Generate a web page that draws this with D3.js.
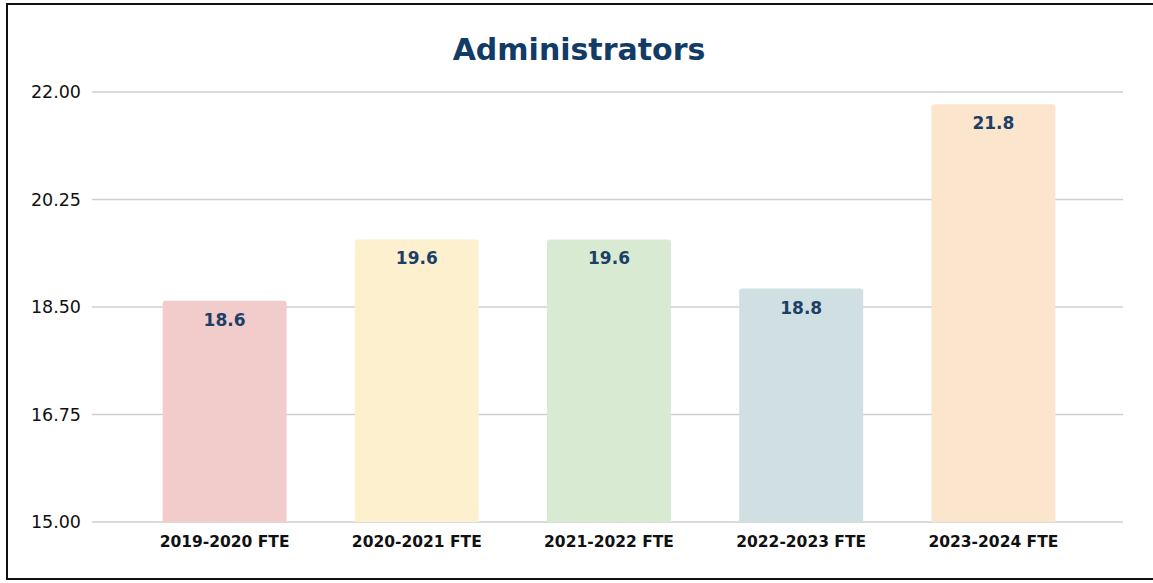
<!DOCTYPE html>
<html>
<head>
<meta charset="utf-8">
<script src="https://cdn.jsdelivr.net/npm/d3@7"></script>
<style>
  body { margin: 0; background: #fff; }
  svg { display: block; }
</style>
</head>
<body>
<div id="chart"></div>
<script>
const width = 1153;
const height = 583;

// data
const categories = ["2019-2020 FTE", "2020-2021 FTE", "2021-2022 FTE", "2022-2023 FTE", "2023-2024 FTE"];
const values = [18.6, 19.6, 19.6, 18.8, 21.8];
const barColors = ["#f2cbcb", "#fdf0cf", "#d9ead3", "#d0dfe2", "#fce5cd"];
const yTicks = [15, 16.75, 18.5, 20.25, 22];

const svg = d3.select("#chart").append("svg").attr("width", width).attr("height", height);

// frame (left, top, bottom edges only)
svg.append("path")
    .attr("d", "M1153,4 H7 V579 H1153")
    .attr("fill", "none")
    .attr("stroke", "#111")
    .attr("stroke-width", 2);

const y = d3.scaleLinear().domain([15, 22]).range([522, 92]);
const x = d3.scaleBand().domain(categories).range([128, 1090]).paddingInner(0.355).paddingOuter(0.18);

// gridlines
svg.selectAll(".grid").data(yTicks).enter()
    .append("line")
    .attr("x1", 92)
    .attr("x2", 1123)
    .attr("y1", d => y(d))
    .attr("y2", d => y(d))
    .attr("stroke", "#cfcfcf")
    .attr("stroke-width", 1.3);

// y tick labels
svg.selectAll(".ytick").data(yTicks).enter()
    .append("text")
    .attr("x", 81)
    .attr("y", d => y(d))
    .attr("dy", "0.36em")
    .attr("text-anchor", "end")
    .attr("font-family", "DejaVu Sans, sans-serif")
    .attr("font-size", 17.5)
    .attr("fill", "#111")
    .text(d => d3.format(".2f")(d));

// bars
svg.selectAll(".bar").data(values).enter()
    .append("path")
    .attr("d", (d, i) => {
        const x0 = x(categories[i]), w = x.bandwidth();
        const top = y(d), bottom = y(15), r = 3;
        return `M${x0},${bottom} V${top + r} Q${x0},${top} ${x0 + r},${top} H${x0 + w - r} Q${x0 + w},${top} ${x0 + w},${top + r} V${bottom} Z`;
    })
    .attr("fill", (d, i) => barColors[i]);

// value labels
svg.selectAll(".val").data(values).enter()
    .append("text")
    .attr("x", (d, i) => x(categories[i]) + x.bandwidth() / 2)
    .attr("y", d => y(d) + 25)
    .attr("text-anchor", "middle")
    .attr("font-family", "DejaVu Sans, sans-serif")
    .attr("font-weight", "bold")
    .attr("font-size", 17)
    .attr("fill", "#1c3f66")
    .text(d => d3.format(".1f")(d));

// x labels
svg.selectAll(".xlab").data(categories).enter()
    .append("text")
    .attr("x", d => x(d) + x.bandwidth() / 2)
    .attr("y", 547)
    .attr("text-anchor", "middle")
    .attr("font-family", "DejaVu Sans, sans-serif")
    .attr("font-weight", "bold")
    .attr("font-size", 15.5)
    .attr("fill", "#111")
    .text(d => d);

// title
svg.append("text")
    .attr("x", 579)
    .attr("y", 60)
    .attr("text-anchor", "middle")
    .attr("font-family", "DejaVu Sans, sans-serif")
    .attr("font-weight", "bold")
    .attr("font-size", 30)
    .attr("fill", "#123b66")
    .text("Administrators");
</script>
</body>
</html>
